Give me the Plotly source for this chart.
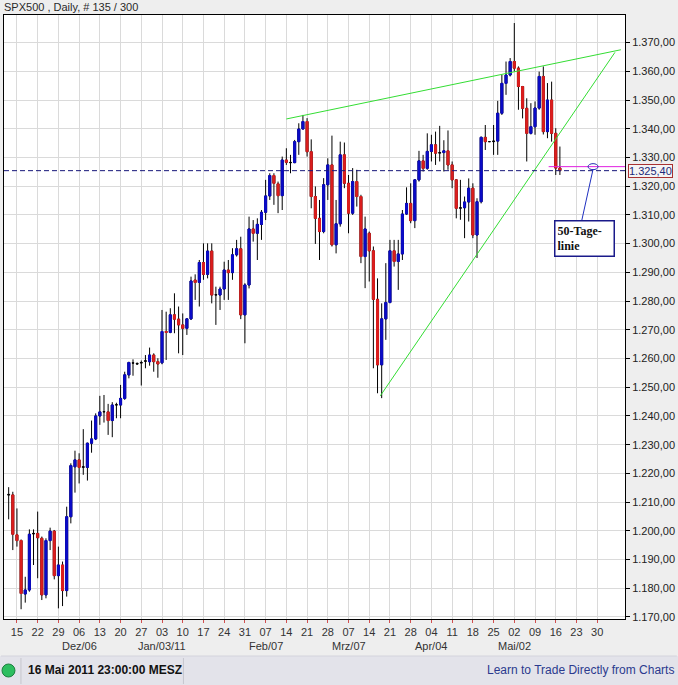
import pandas as pd
import plotly.graph_objects as go

# ---------------- data ----------------
TITLE = "SPX500 , Daily, # 135 / 300"
TIMESTAMP = "16 Mai 2011 23:00:00 MESZ"
PROMO = "Learn to Trade Directly from Charts"

DATES = pd.bdate_range("2010-11-11", "2011-05-17")

OPEN = [
    1212.7, 1212.5, 1198.6, 1196.6, 1178.0, 1179.4, 1198.9, 1199.1, 1197.4, 1177.7, 1196.6, 1199.9, 1184.4, 1188.1,
    1179.2, 1204.9, 1222.3, 1224.7, 1222.1, 1222.1, 1230.5, 1232.0, 1240.0, 1241.4, 1241.4, 1238.4, 1243.8, 1243.8,
    1246.1, 1254.3, 1258.5, 1258.3, 1258.4, 1259.0, 1258.9, 1261.2, 1258.9,
    1258.5, 1269.4, 1269.1, 1275.2, 1273.7, 1271.7, 1270.5, 1273.8, 1287.3, 1286.5, 1293.4, 1289.3, 1297.4, 1282.1,
    1282.1, 1284.2, 1290.8, 1289.9, 1296.1, 1298.2, 1275.2,
    1285.6, 1305.1, 1303.6, 1306.7, 1310.9, 1316.6, 1323.7, 1320.8, 1316.7, 1329.1, 1328.3, 1328.2, 1335.5, 1339.9,
    1342.5, 1332.0, 1316.4, 1308.8, 1304.2, 1320.5,
    1327.4, 1299.6, 1306.9, 1330.9, 1321.0, 1310.6, 1321.6, 1316.4, 1295.5, 1303.6, 1297.5, 1280.6, 1257.8, 1273.8,
    1279.5, 1297.5, 1293.8, 1296.4, 1310.3, 1314.0, 1308.0, 1322.2, 1328.8,
    1326.2, 1332.1, 1334.4, 1331.5, 1331.7, 1332.3, 1327.4, 1322.2, 1312.3, 1312.5, 1314.5, 1319.3, 1303.0, 1314.6,
    1337.0, 1335.5, 1335.5, 1335.7, 1345.4, 1355.8, 1358.7,
    1363.4, 1361.1, 1354.7, 1347.1, 1338.4, 1340.7, 1347.2, 1358.2, 1339.0, 1350.0, 1338.4, 1326.3,
]
HIGH = [
    1215.2, 1213.6, 1207.8, 1197.0, 1184.0, 1200.5, 1200.5, 1206.7, 1198.0, 1197.4, 1201.1, 1200.3, 1194.5, 1189.3,
    1208.4, 1223.5, 1227.9, 1227.0, 1235.4, 1230.7, 1238.4, 1240.9, 1247.0, 1247.3, 1244.2, 1244.8, 1244.6, 1250.8,
    1255.4, 1258.9, 1259.7, 1258.6, 1259.3, 1261.2, 1263.8, 1261.8, 1260.1,
    1276.9, 1276.3, 1277.5, 1282.7, 1278.1, 1275.7, 1274.0, 1288.5, 1289.3, 1294.3, 1300.1, 1300.1, 1300.1, 1285.0,
    1285.0, 1293.7, 1294.3, 1298.4, 1301.3, 1302.4, 1286.2,
    1309.4, 1308.2, 1308.8, 1311.7, 1322.2, 1324.5, 1324.5, 1321.6, 1330.3, 1333.2, 1330.9, 1336.1, 1341.9, 1344.8,
    1343.7, 1336.3, 1319.9, 1315.2, 1322.8, 1329.7,
    1337.6, 1315.2, 1335.5, 1335.2, 1323.9, 1326.3, 1325.7, 1317.0, 1309.4, 1304.2, 1299.0, 1287.9, 1279.2, 1293.2,
    1301.3, 1301.3, 1301.3, 1311.7, 1319.6, 1321.0, 1322.4, 1332.3, 1330.9,
    1338.4, 1337.9, 1339.0, 1341.0, 1336.0, 1339.4, 1328.6, 1322.4, 1322.2, 1316.4, 1322.7, 1321.0, 1315.8, 1337.3,
    1341.3, 1335.5, 1341.3, 1349.7, 1358.8, 1363.4, 1364.6,
    1376.8, 1361.7, 1354.9, 1350.6, 1348.9, 1349.5, 1359.9, 1361.7, 1355.9, 1356.4, 1340.2, 1333.8,
]
LOW = [
    1204.0, 1193.3, 1194.5, 1172.7, 1175.0, 1178.8, 1188.1, 1183.5, 1175.9, 1176.5, 1193.3, 1183.1, 1173.0, 1173.8,
    1177.1, 1202.6, 1213.3, 1216.5, 1219.5, 1217.5, 1227.2, 1231.6, 1236.9, 1237.7, 1233.4, 1232.6, 1239.2, 1239.2,
    1245.6, 1253.1, 1254.0, 1257.8, 1250.6, 1256.6, 1257.5, 1255.4, 1253.3,
    1258.0, 1259.5, 1268.8, 1268.8, 1261.8, 1261.2, 1268.2, 1273.4, 1280.4, 1278.1, 1287.4, 1287.9, 1279.2, 1271.7,
    1276.9, 1280.4, 1280.4, 1287.4, 1295.5, 1273.7, 1265.3,
    1284.4, 1300.7, 1294.3, 1301.3, 1308.2, 1315.2, 1313.5, 1310.6, 1311.7, 1327.4, 1324.5, 1328.0, 1330.9, 1339.8,
    1330.3, 1312.3, 1299.9, 1294.3, 1303.6, 1315.2,
    1299.0, 1296.6, 1305.9, 1319.3, 1303.6, 1310.0, 1312.9, 1293.2, 1284.5, 1286.8, 1256.6, 1247.9, 1246.2, 1266.5,
    1279.2, 1292.0, 1283.9, 1294.3, 1310.0, 1307.1, 1305.4, 1321.6, 1325.1,
    1325.7, 1328.6, 1327.4, 1328.6, 1325.1, 1325.7, 1319.3, 1308.8, 1308.3, 1301.9, 1307.7, 1301.9, 1295.0, 1314.0,
    1332.6, 1335.5, 1330.9, 1330.9, 1344.8, 1351.8, 1358.2,
    1359.9, 1346.6, 1343.6, 1328.6, 1338.0, 1337.9, 1346.6, 1338.0, 1336.7, 1335.5, 1323.9, 1323.9,
]
CLOSE = [
    1212.5, 1198.8, 1196.6, 1178.2, 1179.4, 1198.8, 1199.1, 1197.6, 1177.7, 1196.6, 1199.9, 1184.4, 1188.1, 1179.2,
    1204.9, 1222.7, 1224.7, 1222.1, 1222.3, 1230.5, 1232.0, 1240.0, 1241.4, 1241.5, 1238.4, 1243.8, 1243.9, 1246.1,
    1254.3, 1258.6, 1258.4, 1258.1, 1258.6, 1259.2, 1261.2, 1258.9, 1258.1,
    1269.4, 1269.1, 1275.2, 1273.7, 1271.7, 1270.5, 1273.8, 1287.0, 1286.5, 1293.4, 1289.3, 1297.4, 1282.1, 1282.2,
    1284.2, 1290.8, 1289.9, 1296.1, 1298.2, 1275.2, 1285.6,
    1305.1, 1303.6, 1306.7, 1310.9, 1316.6, 1323.7, 1321.0, 1316.7, 1329.1, 1328.3, 1328.2, 1335.5, 1339.9, 1342.5,
    1332.0, 1316.4, 1308.8, 1304.2, 1320.5, 1327.4,
    1299.6, 1306.9, 1330.9, 1321.0, 1310.6, 1321.6, 1316.4, 1295.5, 1305.1, 1297.5, 1280.6, 1257.8, 1273.8, 1279.5,
    1297.5, 1293.8, 1296.4, 1310.3, 1314.0, 1308.0, 1322.2, 1328.8, 1326.2,
    1332.1, 1334.4, 1331.5, 1331.7, 1332.3, 1327.4, 1322.2, 1312.3, 1312.5, 1314.5, 1319.3, 1303.0, 1314.6, 1337.0,
    1335.5, 1335.5, 1335.7, 1345.4, 1355.8, 1358.7, 1363.4,
    1361.1, 1354.7, 1347.1, 1338.4, 1340.7, 1347.2, 1358.2, 1339.0, 1350.0, 1338.4, 1326.3, 1325.4,
]

# drawn objects on the chart
UPPER_TREND = [("2011-02-14 00:00", 1343.4), ("2011-06-06 17:00", 1367.5)]
LOWER_TREND = [("2011-03-16 16:00", 1247.0), ("2011-06-03 07:00", 1366.6)]
MA50_LEVEL = 1326.8
MA50_START = "2011-05-12 07:00"
MA50_MARK = "2011-05-27 00:00"
MA50_LABEL = "50-Tage-<br>linie"
MA50_LABEL_POS = ("2011-05-25 00:00", 1301.8)
MA50_LINK_END = ("2011-05-24 05:00", 1307.6)

Y_TICKS = list(range(1170, 1371, 10))
MONTH_LABELS = [("2010-12-06", "Dez/06"), ("2011-01-03", "Jan/03/11"), ("2011-02-07", "Feb/07"),
                ("2011-03-07", "Mrz/07"), ("2011-04-04", "Apr/04"), ("2011-05-02", "Mai/02")]
FIRST_TICK, LAST_TICK = "2010-11-15", "2011-05-30"
X_RANGE = ("2010-11-09 21:00", "2011-06-07 17:00")
Y_RANGE = (1169.3, 1379.6)

assert len(DATES) == len(OPEN) == len(HIGH) == len(LOW) == len(CLOSE)

# ---------------- trading-day axis ----------------
CAL = pd.bdate_range("2010-11-01", "2011-06-30")


def pos(ts):
    ts = pd.Timestamp(ts)
    base = ts.normalize()
    return CAL.get_loc(base) + (ts - base) / pd.Timedelta(days=1)


def de_num(v):
    s = f"{v:,.2f}"
    return s.replace(",", "X").replace(".", ",").replace("X", ".")


X = [pos(d) for d in DATES]
mondays = [d for d in CAL if d.weekday() == 0 and pd.Timestamp(FIRST_TICK) <= d <= pd.Timestamp(LAST_TICK)]
tickvals = [pos(d) for d in mondays]
ticktext = [f"{d.day:02d}" for d in mondays]

BLUE = "#0B0BC8"
RED = "#DC1E1E"
GREEN = "#33DD33"
FONT = "Liberation Sans, Arial, sans-serif"

fig = go.Figure()
# wicks (black) - full candles underneath
fig.add_trace(go.Candlestick(
    x=X, open=OPEN, high=HIGH, low=LOW, close=CLOSE,
    increasing=dict(line=dict(color="black", width=1), fillcolor="black"),
    decreasing=dict(line=dict(color="black", width=1), fillcolor="black"),
    whiskerwidth=0, showlegend=False, hoverinfo="skip"))
# coloured bodies on top
bi = [i for i in range(len(X)) if abs(CLOSE[i] - OPEN[i]) > 0.3]
fig.add_trace(go.Candlestick(
    x=[X[i] for i in bi],
    open=[OPEN[i] for i in bi], close=[CLOSE[i] for i in bi],
    high=[max(OPEN[i], CLOSE[i]) for i in bi], low=[min(OPEN[i], CLOSE[i]) for i in bi],
    increasing=dict(line=dict(color=BLUE, width=1), fillcolor=BLUE),
    decreasing=dict(line=dict(color=RED, width=1), fillcolor=RED),
    whiskerwidth=0, showlegend=False, hoverinfo="skip"))

# trend lines
for pts in (UPPER_TREND, LOWER_TREND):
    fig.add_trace(go.Scatter(x=[pos(p[0]) for p in pts], y=[p[1] for p in pts], mode="lines",
                             line=dict(color=GREEN, width=1), showlegend=False, hoverinfo="skip"))

x0r, x1r = pos(X_RANGE[0]), pos(X_RANGE[1])

shapes = []
# last price dashed line
shapes.append(dict(type="line", xref="paper", yref="y", x0=0, x1=1, y0=CLOSE[-1], y1=CLOSE[-1],
                   line=dict(color="#16167A", width=1, dash="5px,3px")))
# 50-day line
shapes.append(dict(type="line", xref="x", yref="y", x0=pos(MA50_START), x1=x1r, y0=MA50_LEVEL, y1=MA50_LEVEL,
                   line=dict(color="#E020E0", width=1)))
shapes.append(dict(type="circle", xref="x", yref="y", xsizemode="pixel", ysizemode="pixel",
                   xanchor=pos(MA50_MARK), yanchor=MA50_LEVEL, x0=-5, x1=5, y0=-3, y1=3,
                   line=dict(color="#2030B0", width=1)))
shapes.append(dict(type="line", xref="x", yref="y", x0=pos(MA50_MARK), y0=MA50_LEVEL - 0.9,
                   x1=pos(MA50_LINK_END[0]), y1=MA50_LINK_END[1], line=dict(color="#2030C0", width=1)))

# pixel helpers for page furniture (plot area: x 3..626, y 15..619)
PL, PR, PT, PB = 3, 626, 15, 619


def px(x):
    return (x - PL) / (PR - PL)


def py(y):
    return (PB - y) / (PB - PT)


# bottom status bar
shapes.append(dict(type="rect", xref="paper", yref="paper", x0=px(-5), x1=px(690), y0=py(656), y1=py(700),
                   fillcolor="#E3E3EA", line=dict(width=0), layer="below"))
shapes.append(dict(type="line", xref="paper", yref="paper", x0=px(0), x1=px(678), y0=py(656), y1=py(656),
                   line=dict(color="#D4D4DC", width=1)))
for sx in (20, 183):
    shapes.append(dict(type="line", xref="paper", yref="paper", x0=px(sx), x1=px(sx), y0=py(658), y1=py(684),
                       line=dict(color="#C6C6CE", width=1)))
shapes.append(dict(type="circle", xref="paper", yref="paper", x0=px(1), x1=px(14), y0=py(677), y1=py(664),
                   fillcolor="#2DBE60", line=dict(color="#1B7F3E", width=1)))

annotations = []
annotations.append(dict(text=TITLE, xref="paper", yref="paper", x=px(1), y=py(7), xanchor="left",
                        yanchor="middle", showarrow=False, font=dict(family=FONT, size=11, color="#2A2A2A")))
annotations.append(dict(text=f"<b>{TIMESTAMP}</b>", xref="paper", yref="paper", x=px(25), y=py(670),
                        xanchor="left", yanchor="middle", showarrow=False,
                        font=dict(family=FONT, size=12, color="#111111")))
annotations.append(dict(text=PROMO, xref="paper", yref="paper", x=px(677), y=py(670), xanchor="right",
                        yanchor="middle", showarrow=False, font=dict(family=FONT, size=12, color="#2B3A8E")))
for d, lab in MONTH_LABELS:
    annotations.append(dict(text=lab, xref="x", yref="paper", x=pos(d), y=py(646), xanchor="center",
                            yanchor="middle", showarrow=False, font=dict(family=FONT, size=11, color="#333333")))
# last price box
annotations.append(dict(text=de_num(CLOSE[-1]), xref="paper", yref="y", x=1, y=CLOSE[-1], xanchor="left",
                        xshift=3, yanchor="middle", showarrow=False, bgcolor="#F4F4F4",
                        bordercolor="#A83232", borderwidth=1, borderpad=0,
                        font=dict(family=FONT, size=11, color="#1C2A7A")))
# 50-day label box
annotations.append(dict(text=f"<b>{MA50_LABEL}</b>", xref="x", yref="y", x=pos(MA50_LABEL_POS[0]),
                        y=MA50_LABEL_POS[1], xanchor="center", yanchor="middle", showarrow=False, align="left",
                        bgcolor="white", bordercolor="#1A1A8A", borderwidth=1.5, borderpad=2, width=54,
                        font=dict(family="Liberation Serif, Times New Roman, serif", size=12, color="#111111")))

fig.update_layout(
    width=678, height=685,
    margin=dict(l=PL, r=678 - PR, t=PT, b=685 - PB),
    paper_bgcolor="#EEEEEE", plot_bgcolor="white",
    showlegend=False,
    shapes=shapes, annotations=annotations,
    font=dict(family=FONT, size=11, color="#333333"),
    xaxis=dict(range=[x0r, x1r], tickmode="array", tickvals=tickvals, ticktext=ticktext,
               showgrid=True, gridcolor="#DADADA", gridwidth=1, zeroline=False,
               showline=True, mirror=True, linecolor="black", linewidth=1,
               ticks="outside", ticklen=3, tickcolor="#D05050",
               tickfont=dict(family=FONT, size=11, color="#333333"),
               rangeslider=dict(visible=False), fixedrange=True),
    yaxis=dict(range=list(Y_RANGE), side="right", tickmode="array", tickvals=Y_TICKS,
               ticktext=[de_num(v) for v in Y_TICKS],
               showgrid=True, gridcolor="#DADADA", gridwidth=1, zeroline=False,
               showline=True, mirror=True, linecolor="black", linewidth=1,
               ticks="outside", ticklen=4, tickcolor="black",
               tickfont=dict(family=FONT, size=11, color="#222222"), fixedrange=True),
)

fig.write_html("out.html", config={"displayModeBar": False},
               post_script="document.body.style.margin='0';document.body.style.overflow='hidden';")
